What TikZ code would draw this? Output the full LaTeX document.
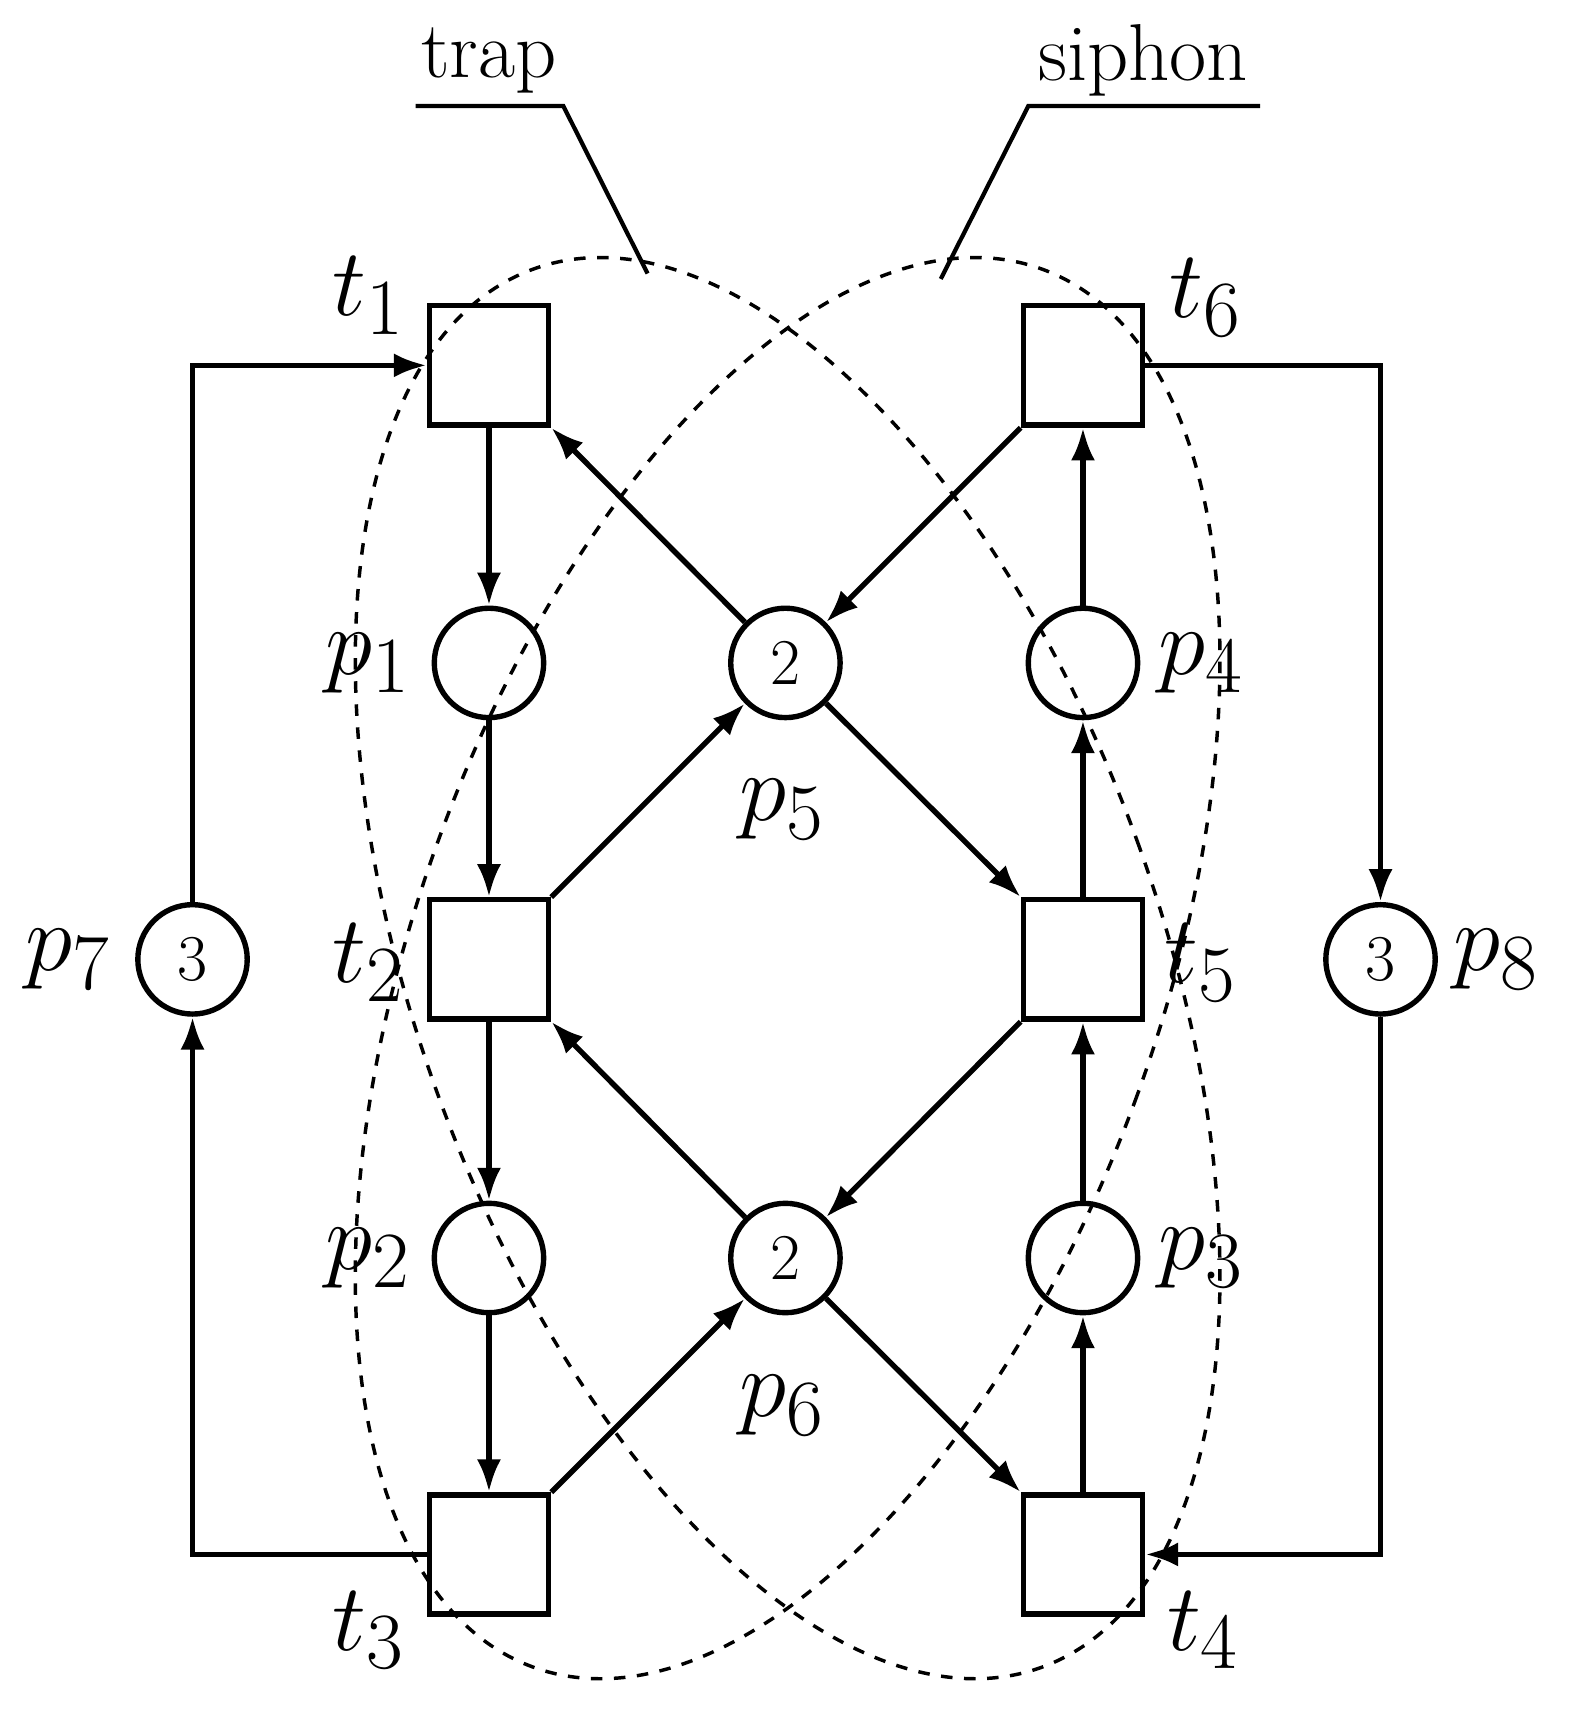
\documentclass[tikz,border=0pt]{standalone}
\usepackage{amsmath}
\usetikzlibrary{arrows.meta}
\usetikzlibrary{positioning}
\usetikzlibrary{calc}
\tikzset{
  place/.style={circle,draw,line width=1.4pt,minimum size=1.0cm,inner sep=0pt,font=\fontsize{17}{17}\selectfont},
  trans/.style={rectangle,draw,line width=1.4pt,minimum size=1.09cm,inner sep=0pt},
  lbl/.style={font=\fontsize{28}{30}\selectfont,inner sep=2pt},
  arc/.style={line width=1.4pt,-{Latex[length=3mm,width=2.2mm]}},
}
\begin{document}
\begin{tikzpicture}[y=-1cm]
\useasboundingbox (0,0) rectangle (14.4,15.76);
% transitions
\node[trans] (t1) at (4.47,3.34) {};
\node[trans] (t6) at (9.90,3.34) {};
\node[trans] (t2) at (4.47,8.77) {};
\node[trans] (t5) at (9.90,8.77) {};
\node[trans] (t3) at (4.47,14.21) {};
\node[trans] (t4) at (9.90,14.21) {};
% places
\node[place] (p1) at (4.47,6.06) {};
\node[place] (p5) at (7.18,6.06) {2};
\node[place] (p4) at (9.90,6.06) {};
\node[place] (p2) at (4.47,11.50) {};
\node[place] (p6) at (7.18,11.50) {2};
\node[place] (p3) at (9.90,11.50) {};
\node[place] (p7) at (1.76,8.77) {3};
\node[place] (p8) at (12.62,8.77) {3};
% labels
\node[lbl] at (3.37,2.70) {$t_1$};
\node[lbl] at (11.02,2.72) {$t_6$};
\node[lbl] at (3.37,8.80) {$t_2$};
\node[lbl] at (10.98,8.80) {$t_5$};
\node[lbl] at (3.37,14.90) {$t_3$};
\node[lbl] at (11.00,14.90) {$t_4$};
\node[lbl] at (3.37,6.06) {$p_1$};
\node[lbl] at (10.98,6.06) {$p_4$};
\node[lbl] at (3.37,11.50) {$p_2$};
\node[lbl] at (10.98,11.50) {$p_3$};
\node[lbl] at (7.15,7.40) {$p_5$};
\node[lbl] at (7.15,12.85) {$p_6$};
\node[lbl] at (0.62,8.77) {$p_7$};
\node[lbl] at (13.68,8.77) {$p_8$};
% arcs
\draw[arc] (t1) -- (p1);
\draw[arc] (p1) -- (t2);
\draw[arc] (t2) -- (p2);
\draw[arc] (p2) -- (t3);
\draw[arc] (t3.north east) -- (p6);
\draw[arc] (p6) -- (t4.north west);
\draw[arc] (t4) -- (p3);
\draw[arc] (p3) -- (t5);
\draw[arc] (t5) -- (p4);
\draw[arc] (p4) -- (t6);
\draw[arc] (t6.south west) -- (p5);
\draw[arc] (p5) -- (t1.south east);
\draw[arc] (t2.north east) -- (p5);
\draw[arc] (p5) -- (t5.north west);
\draw[arc] (t5.south west) -- (p6);
\draw[arc] (p6) -- (t2.south east);
\draw[arc] (p7) |- (t1);
\draw[arc] (t3) -| (p7);
\draw[arc] (t6) -| (p8);
\draw[arc] (p8) |- (t4);
% trap and siphon
\coordinate (c) at (7.20,8.85);
\draw[dashed,line width=0.9pt,rotate around={-20:(c)}] (c) ellipse (3.4 and 6.8);
\draw[dashed,line width=0.9pt,rotate around={20:(c)}] (c) ellipse (3.4 and 6.8);
\node[font=\fontsize{21}{22}\selectfont] (trap) at (4.47,0.55) {trap};
\node[font=\fontsize{21}{22}\selectfont] (siphon) at (10.45,0.55) {siphon};
\coordinate (trapend) at (5.92,2.50);
\coordinate (siphonend) at (8.60,2.55);
\draw[line width=1.1pt] (3.80,0.97) -- (5.15,0.97) -- (trapend);
\draw[line width=1.1pt] (11.52,0.97) -- (9.40,0.97) -- (siphonend);
\end{tikzpicture}
\end{document}
